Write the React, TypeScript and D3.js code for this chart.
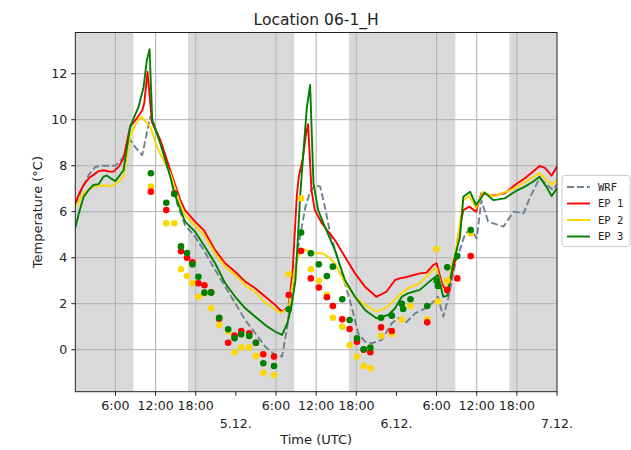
import React from "react";
import * as d3 from "d3";

// ---------- DATA (hours since 4.12. 00:00 UTC) ----------
const nightStarts = [0, 16.85, 40.9, 64.9];
const nightEnds = [8.7, 32.7, 56.8, 72];

const minorTickHours = [6, 12, 18, 30, 36, 42, 54, 60, 66];
const minorTickLabels = ["6:00", "12:00", "18:00", "6:00", "12:00", "18:00", "6:00", "12:00", "18:00"];
const majorTickHours = [24, 48, 72];
const majorTickLabels = ["5.12.", "6.12.", "7.12."];
const yTicks = [0, 2, 4, 6, 8, 10, 12];

const wrfHours = [0, 1, 2, 3, 4, 5, 6, 7, 8.2, 9.1, 10, 11.2, 12.4, 13.2, 14.2, 15.2, 16.4, 17.9, 19.2, 20.9, 22.4, 23.9, 25.4, 26.9, 28.4, 29.9, 30.9, 31.6, 32.6, 33.4, 34.4, 35.1, 35.9, 36.6, 37.3, 38.1, 39.0, 40.3, 41.3, 42.3, 43.3, 44.3, 45.8, 47.3, 48.3, 49.3, 50.8, 52.8, 54.2, 55.0, 55.8, 56.8, 58.3, 59.2, 60.0, 60.7, 61.7, 64.0, 65.5, 67.0, 68.0, 69.4, 71.4, 72];
const wrfTemp = [6.3, 7.0, 7.6, 7.95, 8.0, 8.0, 8.0, 8.3, 9.12, 8.75, 8.46, 10.13, 9.3, 8.7, 7.67, 6.37, 5.42, 4.91, 4.33, 3.47, 2.74, 2.02, 1.29, 0.71, 0.13, -0.23, -0.3, 0.86, 3.0, 4.6, 6.22, 6.87, 7.16, 7.09, 6.22, 5.06, 4.2, 2.89, 1.87, 0.71, 0.35, 0.28, 0.42, 1.15, 1.37, 1.15, 1.58, 1.87, 2.3, 1.43, 2.3, 3.76, 5.06, 5.2, 4.84, 6.5, 5.57, 5.35, 6.0, 5.93, 6.65, 7.45, 6.94, 7.2];

const ep1Hours = [0, 0.6, 1.25, 2.0, 2.7, 3.4, 4.2, 5.0, 5.7, 6.5, 7.2, 8.2, 9.2, 10.0, 10.3, 10.8, 11.45, 12.7, 14.2, 15.7, 16.4, 17.9, 19.2, 20.9, 22.4, 23.9, 25.4, 26.9, 28.4, 29.9, 30.9, 31.9, 32.5, 33.1, 33.4, 34.0, 34.5, 34.8, 35.3, 35.8, 36.85, 37.8, 38.8, 40.3, 41.8, 43.3, 45.0, 46.5, 47.8, 48.5, 49.5, 51.5, 52.5, 53.5, 54.0, 54.8, 55.3, 55.8, 56.8, 57.2, 58.0, 58.9, 59.9, 60.7, 61.5, 62.5, 64.2, 65.7, 67.2, 68.4, 69.4, 70.2, 71.2, 72];
const ep1Temp = [6.37, 6.8, 7.16, 7.45, 7.6, 7.75, 7.8, 7.75, 7.74, 7.96, 8.32, 9.7, 10.06, 10.4, 10.7, 12.09, 9.9, 9.12, 7.8, 6.5, 6.07, 5.57, 5.2, 4.33, 3.76, 3.39, 2.96, 2.67, 2.3, 1.94, 1.65, 1.87, 3.47, 6.65, 7.52, 8.3, 9.4, 9.8, 6.94, 6.07, 5.5, 5.13, 4.77, 4.04, 3.32, 2.74, 2.3, 2.52, 3.03, 3.1, 3.16, 3.32, 3.35, 3.68, 3.76, 2.89, 2.6, 2.7, 3.9, 4.91, 6.07, 6.22, 6.0, 6.8, 6.75, 6.7, 6.8, 7.16, 7.45, 7.74, 7.99, 7.9, 7.57, 7.96];

const ep2Hours = [0, 1.25, 2.7, 3.5, 4.2, 5.0, 5.7, 6.5, 7.2, 8.2, 9.0, 9.86, 11.2, 12.4, 14.2, 15.7, 16.4, 17.9, 19.2, 20.9, 22.4, 23.9, 25.4, 26.9, 28.4, 29.9, 30.7, 31.9, 32.8, 33.7, 35.8, 36.9, 37.8, 38.8, 40.3, 41.8, 43.3, 45.0, 46.7, 48.2, 49.7, 51.5, 53.5, 54.0, 54.8, 55.5, 57.0, 58.0, 58.9, 59.9, 60.9, 62.5, 65.7, 69.4, 71.2, 72];
const ep2Temp = [6.2, 6.8, 7.09, 7.1, 7.16, 7.1, 7.16, 7.3, 7.52, 9.26, 9.8, 10.13, 9.7, 8.68, 7.67, 6.3, 5.85, 5.4, 4.99, 4.2, 3.6, 3.25, 2.8, 2.5, 2.05, 1.75, 1.6, 1.8, 3.47, 4.41, 4.19, 4.2, 4.04, 3.76, 2.89, 2.3, 1.94, 1.65, 1.87, 2.3, 2.67, 2.89, 3.47, 3.55, 2.67, 2.6, 4.5, 6.5, 6.7, 6.15, 6.85, 6.65, 7.02, 7.67, 7.16, 7.38];

const ep3Hours = [0, 0.5, 1.25, 2.0, 2.7, 3.5, 4.2, 4.7, 5.3, 6.0, 7.2, 8.2, 9.45, 10.2, 10.7, 11.1, 11.5, 12.7, 14.2, 14.8, 16.4, 17.9, 19.2, 20.9, 22.4, 23.9, 25.4, 26.9, 28.4, 29.9, 30.9, 31.7, 32.3, 32.9, 33.3, 33.6, 34.1, 34.6, 35.1, 35.6, 36.3, 37.3, 38.8, 40.3, 41.8, 43.3, 45.0, 46.8, 47.8, 48.8, 49.7, 51.5, 53.5, 54.2, 55.0, 55.6, 56.5, 57.5, 58.0, 59.0, 59.9, 61.2, 62.5, 64.2, 65.7, 67.2, 68.4, 69.4, 70.4, 71.2, 72];
const ep3Temp = [5.3, 5.9, 6.65, 6.95, 7.16, 7.2, 7.52, 7.57, 7.45, 7.33, 7.8, 9.7, 10.56, 11.4, 12.6, 13.06, 10.0, 8.97, 7.52, 6.8, 5.57, 5.13, 4.55, 3.76, 2.89, 2.3, 1.8, 1.43, 1.07, 0.78, 0.64, 1.15, 1.87, 3.0, 5.0, 6.65, 8.6, 10.5, 11.51, 7.23, 6.07, 5.35, 4.33, 3.03, 2.3, 1.73, 1.37, 1.51, 1.8, 2.3, 2.45, 2.6, 3.1, 3.25, 2.3, 2.35, 3.76, 4.91, 6.65, 6.87, 6.29, 6.83, 6.5, 6.58, 6.87, 7.09, 7.3, 7.52, 7.09, 6.68, 7.02];

const obsHours = [11.3, 13.6, 14.8, 15.8, 16.7, 17.5, 18.4, 19.3, 20.3, 21.5, 22.85, 23.8, 24.8, 26.0, 27.0, 28.1, 29.7, 31.9, 33.75, 35.2, 36.4, 37.6, 38.5, 39.9, 41.0, 42.1, 43.1, 44.1, 45.7, 47.3, 48.8, 49.0, 50.1, 52.6, 54.0, 54.2, 55.6, 57.1, 59.1];
const obsEP1 = [6.87, 6.07, 6.8, 4.28, 4.0, 3.8, 2.89, 2.8, 2.5, 1.35, 0.3, 0.61, 0.81, 0.71, 0.3, -0.2, -0.3, 2.38, 4.29, 3.1, 2.7, 2.28, 1.9, 1.32, 0.9, 0.35, 0.0, -0.11, 0.97, 0.81, NaN, NaN, NaN, 1.19, NaN, NaN, 2.6, 3.1, 4.07];
const obsEP2 = [7.09, 5.5, 5.5, 3.5, 3.2, 2.9, 2.3, 2.45, 1.8, 1.07, 0.8, -0.11, 0.1, 0.1, -0.27, -1.0, -1.1, 3.28, 6.58, 3.5, 3.0, 2.38, 1.39, 1.0, 0.2, -0.3, -0.71, -0.81, 0.6, 0.68, 1.3, NaN, 1.9, 1.32, 4.38, 2.09, 3.0, NaN, 5.06];
const obsEP3 = [7.67, 6.39, 6.77, 4.49, 4.2, 3.71, 3.17, 2.48, 2.48, 1.39, 0.89, 0.5, 0.67, 0.6, 0.3, -0.59, -0.71, 1.76, 5.09, 4.19, 3.71, 3.2, 3.61, 2.19, 1.29, 0.5, 0.02, 0.09, 1.39, 1.48, 2.0, 1.77, 2.19, 1.9, 3.0, 2.77, 3.58, 4.07, 5.2];

const seriesNames = ["WRF", "EP 1", "EP 2", "EP 3"];
const seriesColors = ["#708090", "#ff0000", "#ffd700", "#008000"];

// ---------- LAYOUT ----------
const W = 631;
const H = 450;
const left = 75.3;
const right = 557;
const top = 32.5;
const bottom = 391.7;
const FONT = "DejaVu Sans, Liberation Sans, sans-serif";

export default function App() {
  const x = d3.scaleLinear().domain([0, 72]).range([left, right]);
  const y = d3.scaleLinear().domain([-1.826, 13.79]).range([bottom, top]);

  const line = d3
    .line<[number, number]>()
    .x((d) => x(d[0]))
    .y((d) => y(d[1]));

  const zip = (hs: number[], vs: number[]) => hs.map((h, i) => [h, vs[i]] as [number, number]);

  const lineSeries = [
    zip(wrfHours, wrfTemp),
    zip(ep1Hours, ep1Temp),
    zip(ep2Hours, ep2Temp),
    zip(ep3Hours, ep3Temp),
  ];

  const dotSeries = [
    { vals: obsEP2, color: seriesColors[2] },
    { vals: obsEP1, color: seriesColors[1] },
    { vals: obsEP3, color: seriesColors[3] },
  ];

  const gridColor = "#b0b0b0";
  const allTicks = [...minorTickHours, ...majorTickHours];

  return (
    <svg
      width={W}
      height={H}
      style={{ position: "absolute", left: 0, top: 0, background: "#ffffff" }}
      fontFamily={FONT}
    >
      <rect x={0} y={0} width={W} height={H} fill="#ffffff" />
      <defs>
        <clipPath id="plotclip">
          <rect x={left} y={top} width={right - left} height={bottom - top} />
        </clipPath>
      </defs>

      {/* night shading */}
      {nightStarts.map((s, i) => (
        <rect
          key={"n" + i}
          x={x(s)}
          y={top}
          width={x(nightEnds[i]) - x(s)}
          height={bottom - top}
          fill="#d9d9d9"
        />
      ))}

      {/* grid */}
      {minorTickHours.map((h) => (
        <line key={"gx" + h} x1={x(h)} x2={x(h)} y1={top} y2={bottom} stroke={gridColor} strokeWidth={1} />
      ))}
      {yTicks.map((t) => (
        <line key={"gy" + t} x1={left} x2={right} y1={y(t)} y2={y(t)} stroke={gridColor} strokeWidth={1} />
      ))}

      {/* lines */}
      <g clipPath="url(#plotclip)">
        {lineSeries.map((d, i) => (
          <path
            key={"l" + i}
            d={line(d) || ""}
            fill="none"
            stroke={seriesColors[i]}
            strokeWidth={1.9}
            strokeDasharray={i === 0 ? "7,3" : undefined}
            strokeLinejoin="round"
          />
        ))}
      </g>

      {/* observation dots */}
      {dotSeries.map((s, si) =>
        obsHours.map((h, i) =>
          isNaN(s.vals[i]) ? null : (
            <circle key={"d" + si + "_" + i} cx={x(h)} cy={y(s.vals[i])} r={3.3} fill={s.color} />
          )
        )
      )}

      {/* frame */}
      <rect x={left} y={top} width={right - left} height={bottom - top} fill="none" stroke="#222" strokeWidth={1} />

      {/* x ticks */}
      {allTicks.map((h) => (
        <line key={"tx" + h} x1={x(h)} x2={x(h)} y1={bottom} y2={bottom + 4} stroke="#222" strokeWidth={1} />
      ))}
      {minorTickHours.map((h, i) => (
        <text key={"lx" + h} x={x(h)} y={410} textAnchor="middle" fontSize={12.6} fill="#222">
          {minorTickLabels[i]}
        </text>
      ))}
      {majorTickHours.map((h, i) => (
        <text key={"mx" + h} x={x(h)} y={427.5} textAnchor="middle" fontSize={12.6} fill="#222">
          {majorTickLabels[i]}
        </text>
      ))}

      {/* y ticks */}
      {yTicks.map((t) => (
        <g key={"ty" + t}>
          <line x1={left - 4} x2={left} y1={y(t)} y2={y(t)} stroke="#222" strokeWidth={1} />
          <text x={left - 8} y={y(t)} dy="0.36em" textAnchor="end" fontSize={12.6} fill="#222">
            {t}
          </text>
        </g>
      ))}

      {/* labels */}
      <text x={(left + right) / 2} y={25} textAnchor="middle" fontSize={15.5} fill="#222">
        Location 06-1_H
      </text>
      <text x={(left + right) / 2} y={444} textAnchor="middle" fontSize={13} fill="#222">
        Time (UTC)
      </text>
      <text
        transform={`translate(42,${(top + bottom) / 2}) rotate(-90)`}
        textAnchor="middle"
        fontSize={13}
        fill="#222"
      >
        Temperature (°C)
      </text>

      {/* legend */}
      <g>
        <rect x={562} y={175.5} width={68} height={71} rx={2.5} fill="#ffffff" fillOpacity={0.8} stroke="#cccccc" strokeWidth={1} />
        {seriesNames.map((n, i) => {
          const cy = 187 + i * 16.5;
          return (
            <g key={"lg" + i}>
              <line
                x1={567}
                x2={590}
                y1={cy}
                y2={cy}
                stroke={seriesColors[i]}
                strokeWidth={1.9}
                strokeDasharray={i === 0 ? "7,3" : undefined}
              />
              <text x={598} y={cy} dy="0.36em" fontSize={10.5} fontFamily="DejaVu Sans Mono, monospace" fill="#222">
                {n}
              </text>
            </g>
          );
        })}
      </g>
    </svg>
  );
}
